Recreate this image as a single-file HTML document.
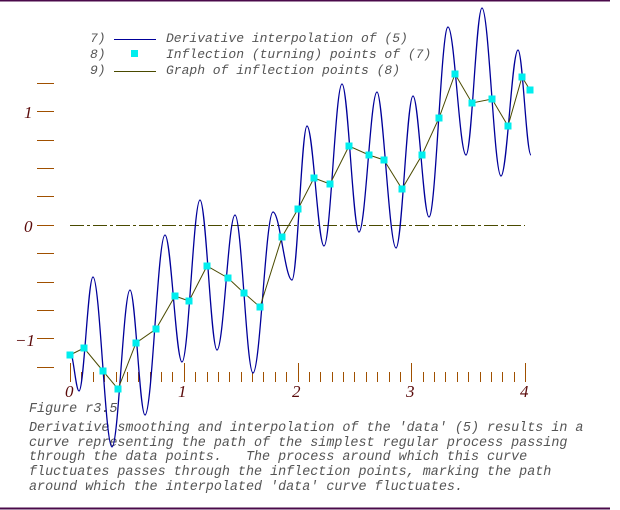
<!DOCTYPE html>
<html><head><meta charset="utf-8"><style>
html,body{margin:0;padding:0;background:#fff;}
svg{display:block;}
.t{font-family:"Liberation Mono",monospace;font-style:italic;fill:#555;white-space:pre;}
.n{font-family:"Liberation Serif",serif;font-style:italic;fill:#5a0a0a;font-size:17px;}
</style></head><body>
<svg width="620" height="510" viewBox="0 0 620 510" xmlns="http://www.w3.org/2000/svg">
<line x1="0" y1="0.5" x2="610" y2="0.5" stroke="#4a0a4a" stroke-width="2"/>
<line x1="0" y1="508.5" x2="610" y2="508.5" stroke="#4a0a4a" stroke-width="2"/>
<g class="t" font-size="13">
<text x="90" y="42">7)</text><text x="166" y="42">Derivative interpolation of (5)</text>
<text x="90" y="58">8)</text><text x="166" y="58">Inflection (turning) points of (7)</text>
<text x="90" y="74">9)</text><text x="166" y="74">Graph of inflection points (8)</text>
</g>
<line x1="114" y1="39.5" x2="156" y2="39.5" stroke="#00009a" stroke-width="1"/>
<rect x="131" y="50" width="7" height="7" fill="#00eeee"/>
<line x1="114" y1="71.5" x2="156" y2="71.5" stroke="#4a4a00" stroke-width="1"/>
<g stroke="#a05000" stroke-width="1">
<line x1="37" y1="83.5" x2="54" y2="83.5"/><line x1="37" y1="111.5" x2="54" y2="111.5"/>
<line x1="37" y1="140.5" x2="54" y2="140.5"/><line x1="37" y1="168.5" x2="54" y2="168.5"/>
<line x1="37" y1="196.5" x2="54" y2="196.5"/><line x1="37" y1="225.5" x2="54" y2="225.5"/>
<line x1="37" y1="253.5" x2="54" y2="253.5"/><line x1="37" y1="282.5" x2="54" y2="282.5"/>
<line x1="37" y1="310.5" x2="54" y2="310.5"/><line x1="37" y1="338.5" x2="54" y2="338.5"/>
<line x1="37" y1="367.5" x2="54" y2="367.5"/>
</g>
<text class="n" x="24" y="118">1</text>
<text class="n" x="24" y="232">0</text>
<text class="n" x="15" y="346">−1</text>
<path stroke="#a05000" stroke-width="1" fill="none" d="M70.5,363V382M81.5,372V382M93.5,372V382M104.5,372V382M116.5,372V382M127.5,372V382M138.5,372V382M150.5,372V382M161.5,372V382M172.5,372V382M184.5,363V382M195.5,372V382M207.5,372V382M218.5,372V382M229.5,372V382M241.5,372V382M252.5,372V382M263.5,372V382M275.5,372V382M286.5,372V382M298.5,363V382M309.5,372V382M320.5,372V382M332.5,372V382M343.5,372V382M354.5,372V382M366.5,372V382M377.5,372V382M389.5,372V382M400.5,372V382M411.5,363V382M423.5,372V382M434.5,372V382M445.5,372V382M457.5,372V382M468.5,372V382M480.5,372V382M491.5,372V382M502.5,372V382M514.5,372V382M525.5,363V382"/>
<text class="n" x="65" y="397">0</text>
<text class="n" x="178" y="397">1</text>
<text class="n" x="292" y="397">2</text>
<text class="n" x="406" y="397">3</text>
<text class="n" x="520" y="397">4</text>
<line x1="70" y1="225.5" x2="525" y2="225.5" stroke="#4a4a00" stroke-width="1" stroke-dasharray="14,3,3,3"/>
<g class="t" font-size="13.4">
<text x="29" y="412">Figure r3.5</text>
<text x="29" y="431">Derivative smoothing and interpolation of the 'data' (5) results in a</text>
<text x="29" y="446">curve representing the path of the simplest regular process passing</text>
<text x="29" y="460">through the data points.&#160;&#160; The process around which this curve</text>
<text x="29" y="475">fluctuates passes through the inflection points, marking the path</text>
<text x="29" y="490">around which the interpolated 'data' curve fluctuates.</text>
</g>
<path fill="none" stroke="#00009a" stroke-width="1.3" d="M70,352 C73.2,352 75.8,391 79,391 C84,391 88,277 93,277 C99.8,277 105.2,447 112,447 C118.5,447 123.5,290 130,290 C135.4,290 139.6,415 145,415 C152.2,415 157.8,235 165,235 C171.1,235 175.9,362 182,362 C188.5,362 193.5,200 200,200 C206.1,200 210.9,350 217,350 C223.5,350 228.5,215 235,215 C241.5,215 246.5,373 253,373 C260.2,373 265.8,212 273,212 C279.8,212 285.2,280 292,280 C297.4,280 301.6,126 307,126 C313.1,126 317.9,246 324,246 C330.5,246 335.5,84 342,84 C348.1,84 352.9,232 359,232 C365.5,232 370.5,92 377,92 C382.8,92 389.2,248 396,248 C402.1,248 406.9,96 413,96 C418.8,96 423.2,217 429,217 C435.8,217 441.2,27 448,27 C454.5,27 459.5,155 466,155 C471.8,155 476.2,8 482,8 C488.8,8 494.2,176 501,176 C507.1,176 511.9,50 518,50 C522.7,50 526.3,155 531,155"/>
<polyline fill="none" stroke="#4a4a00" stroke-width="1" points="70,355 84,348 103,371 118,389 136,343 156,329 175,296 189,301 207,266 228,278 244,293 260,307 282,237 298,209 314,178 330,184 349,146 369,155 384,160 402,189 422,155 439,118 455,74 472,103 492,99 508,126 522,77 530,90"/>
<g fill="#00eeee">
<rect x="66.5" y="351.5" width="7" height="7"/><rect x="80.5" y="344.5" width="7" height="7"/><rect x="99.5" y="367.5" width="7" height="7"/><rect x="114.5" y="385.5" width="7" height="7"/>
<rect x="132.5" y="339.5" width="7" height="7"/><rect x="152.5" y="325.5" width="7" height="7"/><rect x="171.5" y="292.5" width="7" height="7"/><rect x="185.5" y="297.5" width="7" height="7"/>
<rect x="203.5" y="262.5" width="7" height="7"/><rect x="224.5" y="274.5" width="7" height="7"/><rect x="240.5" y="289.5" width="7" height="7"/><rect x="256.5" y="303.5" width="7" height="7"/>
<rect x="278.5" y="233.5" width="7" height="7"/><rect x="294.5" y="205.5" width="7" height="7"/><rect x="310.5" y="174.5" width="7" height="7"/><rect x="326.5" y="180.5" width="7" height="7"/>
<rect x="345.5" y="142.5" width="7" height="7"/><rect x="365.5" y="151.5" width="7" height="7"/><rect x="380.5" y="156.5" width="7" height="7"/><rect x="398.5" y="185.5" width="7" height="7"/>
<rect x="418.5" y="151.5" width="7" height="7"/><rect x="435.5" y="114.5" width="7" height="7"/><rect x="451.5" y="70.5" width="7" height="7"/><rect x="468.5" y="99.5" width="7" height="7"/>
<rect x="488.5" y="95.5" width="7" height="7"/><rect x="504.5" y="122.5" width="7" height="7"/><rect x="518.5" y="73.5" width="7" height="7"/><rect x="526.5" y="86.5" width="7" height="7"/>
</g>
</svg>
</body></html>
